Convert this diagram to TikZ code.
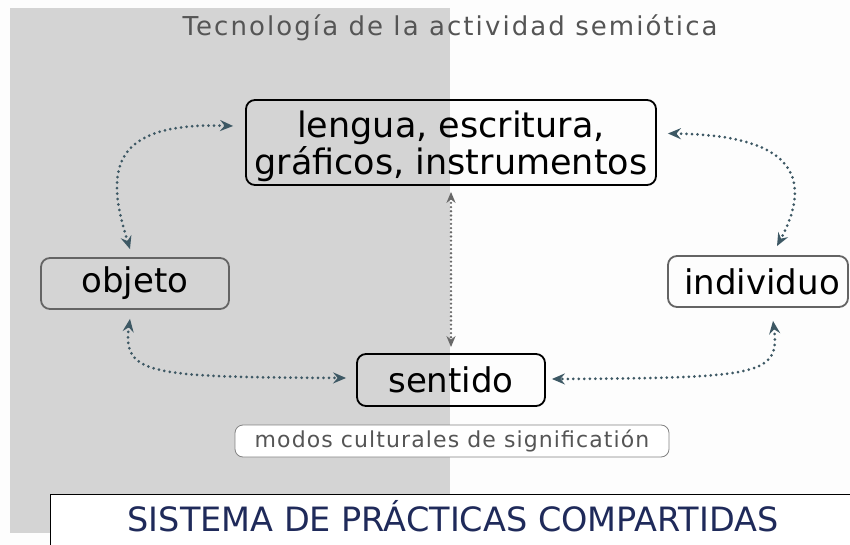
\documentclass[tikz,border=0pt]{standalone}
\usepackage{fontspec}
\setmainfont{DejaVu Sans}
\newfontfamily\titlefont[LetterSpace=8]{DejaVu Sans}
\newfontfamily\modosfont[LetterSpace=5]{DejaVu Sans}
\usetikzlibrary{arrows.meta}
\definecolor{bgwhite}{RGB}{253,253,253}
\definecolor{bggray}{RGB}{212,212,212}
\definecolor{titlec}{RGB}{85,85,85}
\definecolor{arrowc}{RGB}{61,88,100}
\definecolor{midc}{RGB}{105,105,105}
\definecolor{navy}{RGB}{31,42,90}
\definecolor{boxgray}{RGB}{100,100,100}
\tikzset{
  concept/.style={draw=black, line width=1.8pt, rounded corners=9pt, inner sep=0pt, align=center, font=\fontsize{34}{37}\selectfont},
  softbox/.style={draw=boxgray, line width=1.8pt, rounded corners=9pt, inner sep=0pt, font=\fontsize{34}{37}\selectfont},
  dotarrow/.style={draw=arrowc, line width=3pt, line cap=round, dash pattern=on 0pt off 5.5pt, {Stealth[length=13pt,width=11pt,inset=4.5pt]}-{Stealth[length=13pt,width=11pt,inset=4.5pt]}},
  midarrow/.style={draw=midc, line width=2.6pt, line cap=round, dash pattern=on 0pt off 4.2pt, {Stealth[length=11pt,width=9pt,inset=3.5pt]}-{Stealth[length=11pt,width=9pt,inset=3.5pt]}}
}
\begin{document}
\begin{tikzpicture}[x=1pt,y=-1pt]
\useasboundingbox (0,0) rectangle (850,545);
\clip (0,0) rectangle (850,545);
\fill[bgwhite] (0,0) rectangle (850,545);
\fill[bggray] (10,8) rectangle (450,533);
\node[text=titlec, font=\titlefont\fontsize{26}{30}\selectfont] (title) at (450,28) {Tecnología de la actividad semiótica};
\node[concept, minimum width=410pt, minimum height=85pt, label={[font=\fontsize{35}{37}\selectfont, align=center, inner sep=0pt, yshift=-4pt]center:{lengua, escritura,\\gráficos, instrumentos}}] (lengua) at (451,142.5) {};
\node[softbox, minimum width=188pt, minimum height=51pt] (objeto) at (135,283.5) {objeto};
\node[softbox, minimum width=180pt, minimum height=51pt] (individuo) at (758,281.5) {\hspace{8pt}individuo};
\node[concept, minimum width=188pt, minimum height=52pt] (sentido) at (451,380) {sentido};
\node[draw=boxgray!80, line width=0.8pt, fill=white, rounded corners=8pt, minimum width=434pt, minimum height=32pt, inner sep=0pt, text=titlec, font=\modosfont\fontsize{22}{24}\selectfont] (modos) at (452,441) {modos culturales de significatión};
\node[draw=black, line width=0.8pt, fill=white, minimum width=840pt, minimum height=80pt, anchor=north west, inner sep=0pt] (sistema) at (50,494) {};
\node[text=navy, font=\fontsize{33.5}{38}\selectfont] (sistemat) at (453,516) {SISTEMA DE PRÁCTICAS COMPARTIDAS};
\draw[dotarrow] ([xshift=-5pt,yshift=8pt]objeto.north) .. controls (105,170) and (110,122) .. ([xshift=-12pt,yshift=16.5pt]lengua.west);
\draw[dotarrow] ([xshift=11pt,yshift=9pt]lengua.east) .. controls (790,135) and (815,175) .. ([xshift=19pt,yshift=9pt]individuo.north);
\draw[midarrow] ([yshift=-6pt]lengua.south) -- ([yshift=6pt]sentido.north);
\draw[dotarrow] ([xshift=-5pt,yshift=-9pt]objeto.south) .. controls (122,375) and (150,377) .. ([xshift=-10pt,yshift=2pt]sentido.west);
\draw[dotarrow] ([xshift=15pt,yshift=-13pt]individuo.south) .. controls (780,375) and (760,378) .. ([xshift=6pt,yshift=1pt]sentido.east);
\end{tikzpicture}
\end{document}
